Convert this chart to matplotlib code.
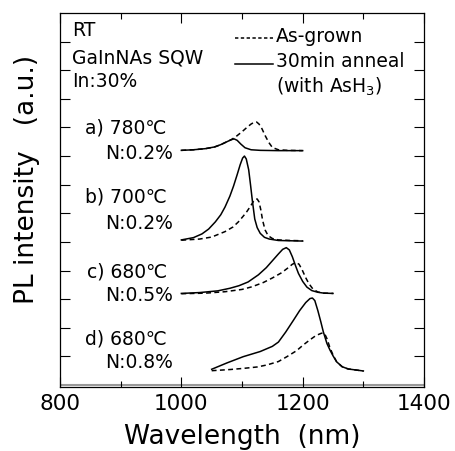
import matplotlib
matplotlib.use('Agg')
import matplotlib.pyplot as plt
from matplotlib.ticker import MultipleLocator

# PL spectra, stacked (y already includes each trace's vertical offset)
wl_a_ann = [1000, 1020, 1040, 1055, 1065, 1075, 1082, 1087, 1092, 1098, 1105, 1115, 1130, 1160, 1200]
pl_a_ann = [8.20, 8.22, 8.26, 8.32, 8.40, 8.50, 8.57, 8.60, 8.55, 8.42, 8.29, 8.22, 8.20, 8.19, 8.19]
wl_a_grown = [1000, 1020, 1040, 1055, 1065, 1075, 1082, 1090, 1100, 1108, 1115, 1120, 1124, 1128,
              1133, 1138, 1144, 1150, 1160, 1175, 1200]
pl_a_grown = [8.20, 8.22, 8.26, 8.32, 8.40, 8.50, 8.57, 8.68, 8.85, 9.00, 9.12, 9.18, 9.19, 9.12,
              8.95, 8.72, 8.48, 8.30, 8.22, 8.20, 8.19]

wl_b_ann = [1000, 1020, 1034, 1045, 1056, 1065, 1072, 1080, 1086, 1092, 1097, 1101, 1104, 1107,
            1111, 1114, 1117, 1121, 1125, 1130, 1137, 1145, 1160, 1200]
pl_b_ann = [5.07, 5.15, 5.28, 5.45, 5.70, 5.95, 6.22, 6.60, 6.95, 7.35, 7.70, 7.93, 8.00, 7.90,
            7.52, 7.00, 6.45, 5.80, 5.50, 5.30, 5.16, 5.10, 5.05, 5.03]
wl_b_grown = [1000, 1030, 1050, 1072, 1085, 1094, 1102, 1108, 1114, 1119, 1122, 1125, 1128, 1131,
              1134, 1138, 1143, 1150, 1160, 1180, 1200]
pl_b_grown = [5.06, 5.10, 5.17, 5.36, 5.52, 5.70, 5.90, 6.06, 6.25, 6.42, 6.49, 6.50, 6.40, 6.12,
              5.75, 5.42, 5.22, 5.12, 5.07, 5.05, 5.04]

wl_c_ann = [1000, 1030, 1060, 1080, 1095, 1110, 1127, 1140, 1150, 1160, 1167, 1173, 1178, 1183,
            1188, 1193, 1200, 1207, 1215, 1225, 1235, 1250]
pl_c_ann = [3.20, 3.23, 3.29, 3.38, 3.47, 3.60, 3.85, 4.10, 4.34, 4.58, 4.74, 4.80, 4.72, 4.48,
            4.18, 3.90, 3.62, 3.42, 3.30, 3.24, 3.21, 3.20]
wl_c_grown = [1000, 1040, 1072, 1100, 1116, 1135, 1150, 1165, 1175, 1183, 1189, 1194, 1199, 1205,
              1210, 1217, 1225, 1235, 1250]
pl_c_grown = [3.19, 3.21, 3.26, 3.34, 3.43, 3.58, 3.74, 3.92, 4.08, 4.22, 4.28, 4.22, 4.03, 3.75,
              3.55, 3.35, 3.25, 3.21, 3.20]

wl_d_ann = [1050, 1075, 1102, 1130, 1150, 1160, 1172, 1185, 1195, 1205, 1212, 1216, 1220, 1225,
            1230, 1234, 1240, 1245, 1250, 1256, 1265, 1275, 1300]
pl_d_ann = [0.55, 0.77, 0.99, 1.17, 1.35, 1.50, 1.85, 2.27, 2.60, 2.88, 3.02, 3.04, 2.95, 2.60,
            2.20, 1.86, 1.45, 1.22, 1.02, 0.81, 0.64, 0.56, 0.49]
wl_d_grown = [1050, 1080, 1102, 1125, 1141, 1160, 1174, 1190, 1201, 1212, 1222, 1231, 1236, 1240,
              1245, 1250, 1256, 1265, 1275, 1300]
pl_d_grown = [0.50, 0.54, 0.58, 0.63, 0.70, 0.82, 0.99, 1.20, 1.40, 1.58, 1.73, 1.81, 1.80, 1.62,
              1.30, 1.05, 0.81, 0.64, 0.56, 0.49]

# sample labels: (anneal temperature, N content)
temp_labels = ['a) 780℃', 'b) 700℃', 'c) 680℃', 'd) 680℃']
n_labels = ['N:0.2%', 'N:0.2%', 'N:0.5%', 'N:0.8%']
temp_label_y = [8.80, 6.39, 3.77, 1.40]
n_label_y = [7.89, 5.44, 2.94, 0.58]

plt.rcParams['font.family'] = 'DejaVu Sans'
fig = plt.figure(figsize=(4.55, 4.51), dpi=100)
ax = fig.add_axes([0.1319, 0.1419, 0.8, 0.8293])

lw = 1.1
dash = (0, (3.2, 2.2))
ax.plot(wl_a_grown, pl_a_grown, color='k', lw=lw, ls=dash)
ax.plot(wl_a_ann, pl_a_ann, color='k', lw=lw)
ax.plot(wl_b_grown, pl_b_grown, color='k', lw=lw, ls=dash)
ax.plot(wl_b_ann, pl_b_ann, color='k', lw=lw)
ax.plot(wl_c_grown, pl_c_grown, color='k', lw=lw, ls=dash)
ax.plot(wl_c_ann, pl_c_ann, color='k', lw=lw)
ax.plot(wl_d_grown, pl_d_grown, color='k', lw=lw, ls=dash)
ax.plot(wl_d_ann, pl_d_ann, color='k', lw=lw)
ax.axhline(0, color='0.6', lw=1.5, zorder=1)

fs = 13.5
for t, n, ty, ny in zip(temp_labels, n_labels, temp_label_y, n_label_y):
    ax.text(976, ty, t, ha='right', va='baseline', fontsize=fs)
    ax.text(986, ny, n, ha='right', va='baseline', fontsize=fs)

# sample description, top left
ax.text(820, 12.18, 'RT', va='baseline', fontsize=fs)
ax.text(820, 11.25, 'GaInNAs SQW', va='baseline', fontsize=fs)
ax.text(820, 10.41, 'In:30%', va='baseline', fontsize=fs)

# hand-made legend
ax.plot([1088, 1151], [12.12, 12.12], color='k', lw=lw, ls=(0, (2.2, 1.6)))
ax.plot([1088, 1151], [11.21, 11.21], color='k', lw=lw)
ax.text(1156, 11.97, 'As-grown', va='baseline', fontsize=fs)
ax.text(1156, 11.13, '30min anneal', va='baseline', fontsize=fs)
ax.text(1156, 10.22, '(with AsH$_3$)', va='baseline', fontsize=fs)

ax.set_xlim(800, 1400)
ax.set_ylim(-0.07, 13)
ax.set_xticks([800, 1000, 1200, 1400])
ax.xaxis.set_minor_locator(MultipleLocator(100))
ax.set_yticks(range(1, 13))
ax.set_yticklabels([])
ax.tick_params(which='both', direction='in', top=True, right=True, width=0.8)
ax.tick_params(which='major', length=7.5, labelsize=15.5, pad=5)
ax.tick_params(which='minor', length=4)
for s in ax.spines.values():
    s.set_linewidth(0.9)

ax.text(0.5, -0.134, 'Wavelength  (nm)', transform=ax.transAxes,
        ha='center', va='center', fontsize=19)
fig.text(27 / 455, 1 - 179 / 451, 'PL intensity   (a.u.)', rotation=90,
         ha='center', va='center', fontsize=19)

fig.savefig('out.png', dpi=100)
